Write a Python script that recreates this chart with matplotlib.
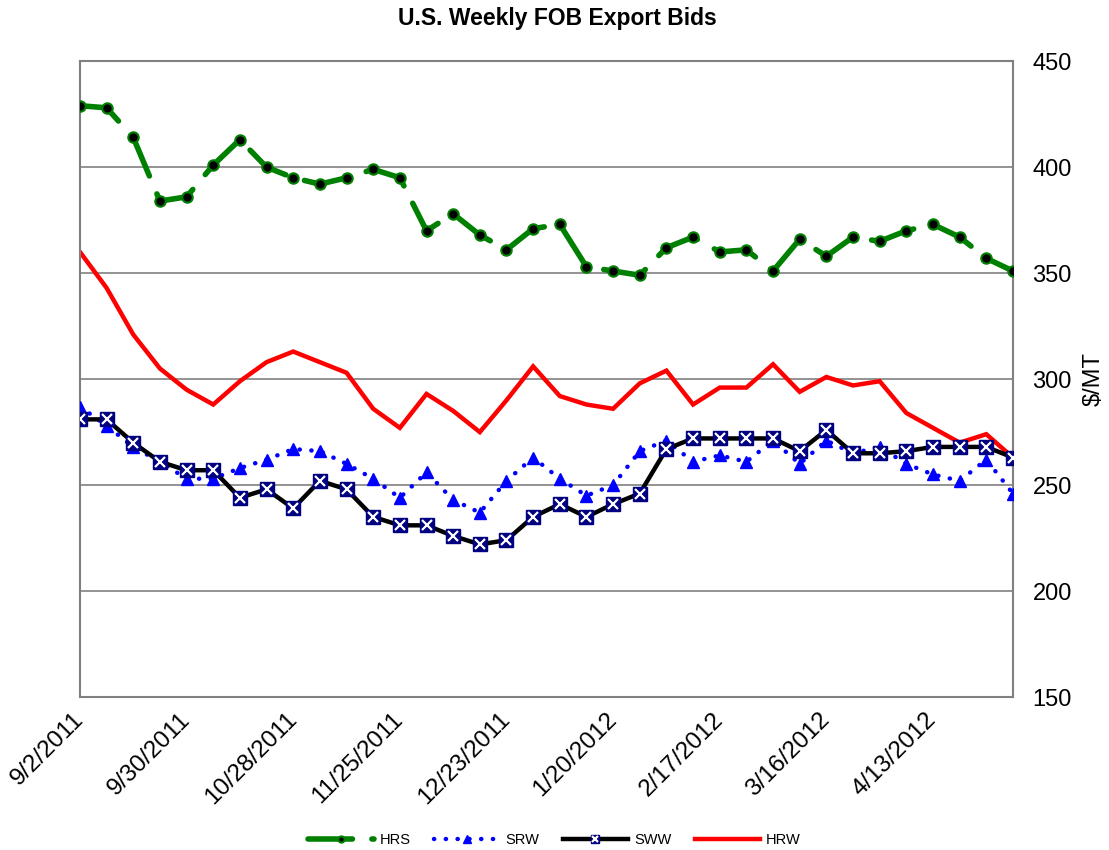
import matplotlib
matplotlib.use("Agg")
import matplotlib.pyplot as plt
from matplotlib import font_manager
import pandas as pd

plt.rcParams["font.family"] = ["Liberation Sans", "DejaVu Sans"]

# Weekly bids, $/MT, starting 9/2/2011
start = "2011-09-02"
n_weeks = 36

hrs = [429, 428, 414, 384, 386, 401, 413, 400, 395, 392, 395, 399,
       395, 370, 378, 368, 361, 371, 373, 353, 351, 349, 362, 367,
       360, 361, 351, 366, 358, 367, 365, 370, 373, 367, 357, 351]
srw = [287, 278, 268, 261, 253, 253, 258, 262, 267, 266, 260, 253,
       244, 256, 243, 237, 252, 263, 253, 245, 250, 266, 271, 261,
       264, 261, 271, 260, 271, 265, 268, 260, 255, 252, 262, 246]
sww = [281, 281, 270, 261, 257, 257, 244, 248, 239, 252, 248, 235,
       231, 231, 226, 222, 224, 235, 241, 235, 241, 246, 267, 272,
       272, 272, 272, 266, 276, 265, 265, 266, 268, 268, 268, 263]
hrw = [360, 343, 321, 305, 295, 288, 299, 308, 313, 308, 303, 286,
       277, 293, 285, 275, 290, 306, 292, 288, 286, 298, 304, 288,
       296, 296, 307, 294, 301, 297, 299, 284, 277, 270, 274, 263]

dates = pd.date_range(start, periods=n_weeks, freq="7D")
tick_dates = dates[::4]
tick_labels = [f"{d.month}/{d.day}/{d.year}" for d in tick_dates]
y_ticks = [150, 200, 250, 300, 350, 400, 450]

# bold Liberation Sans (not the Narrow variant)
bold_file = None
for f in font_manager.fontManager.ttflist:
    if (f.name == "Liberation Sans" and f.weight in (700, "bold")
            and f.style == "normal" and "Narrow" not in f.fname):
        bold_file = f.fname
        break
title_font = (font_manager.FontProperties(fname=bold_file, size=16.5)
              if bold_file else
              font_manager.FontProperties(family="Liberation Sans",
                                          weight="bold", size=16.5))

fig = plt.figure(figsize=(11.09, 8.5), dpi=100)
ax = fig.add_axes([0.0721, 0.18, 0.8413, 0.748])

# HRW (red, plain)
(l_hrw,) = ax.plot(dates, hrw, color="red", lw=3.2, zorder=2,
                   solid_joinstyle="miter")

# HRS (green dashed, black dots)
(l_hrs,) = ax.plot(dates, hrs, color="green", lw=4, ls=(0, (8, 3.5)),
                   dash_capstyle="round", marker="o", ms=7.5,
                   mfc="black", mec="green", mew=1.5, zorder=3)

# SRW (blue dotted, triangles)
(l_srw,) = ax.plot(dates, srw, color="blue", lw=3.2, ls=(0, (0.05, 2.6)),
                   dash_capstyle="round", marker="^", ms=9,
                   mfc="blue", mec="blue", zorder=4)

# SWW (black, navy square with white x)
(l_sww,) = ax.plot(dates, sww, color="black", lw=3.2, marker="s", ms=9.5,
                   mfc="navy", mec="navy", zorder=5)
(l_swx,) = ax.plot(dates, sww, ls="none", marker="x", ms=7.5,
                   mec="white", mew=1.6, zorder=6)

ax.set_xlim(dates[0], dates[-1])
ax.set_ylim(150, 450)
ax.set_yticks(y_ticks)
ax.yaxis.tick_right()
ax.yaxis.set_label_position("right")
ax.set_ylabel("$/MT", fontsize=17, labelpad=8)
ax.tick_params(axis="y", length=0, labelsize=17, pad=14)
ax.set_xticks(tick_dates)
ax.set_xticklabels(tick_labels, rotation=45, ha="right", va="center",
                   rotation_mode="anchor", fontsize=17.5)
ax.tick_params(axis="x", length=0, pad=14)
ax.grid(axis="y", color="#808080", lw=1.2)
ax.set_axisbelow(True)
for s in ax.spines.values():
    s.set_color("#808080")
    s.set_linewidth(1.5)

fig.text(0.503, 0.978, "U.S. Weekly FOB Export Bids", ha="center", va="center",
         fontproperties=title_font)

fig.legend([l_hrs, l_srw, (l_sww, l_swx), l_hrw], ["HRS", "SRW", "SWW", "HRW"],
           loc="center", bbox_to_anchor=(0.5, 0.012), ncol=4, frameon=False,
           fontsize=10.5, handlelength=4.5, columnspacing=1.6,
           handletextpad=0.4, markerscale=0.6)

fig.savefig("out.png", dpi=100)
